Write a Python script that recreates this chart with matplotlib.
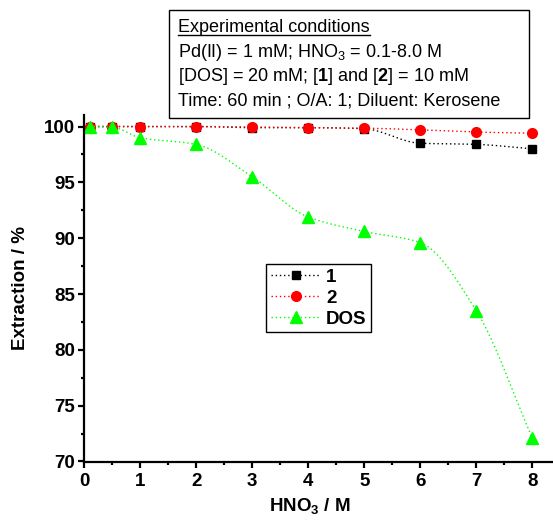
import numpy as np
import matplotlib
matplotlib.use("Agg")
import matplotlib.pyplot as plt
from matplotlib.patches import Rectangle
from matplotlib.lines import Line2D

# HNO3 concentration (M) and extraction (%)
HNO3 = [0.1, 0.5, 1, 2, 3, 4, 5, 6, 7, 8]
EXT_1 = [100.0, 100.0, 100.0, 100.0, 99.9, 99.9, 99.8, 98.5, 98.4, 98.0]
EXT_2 = [100.0, 100.0, 100.0, 100.0, 99.95, 99.9, 99.85, 99.7, 99.5, 99.4]
EXT_DOS = [100.0, 99.95, 99.0, 98.4, 95.5, 91.9, 90.6, 89.6, 83.5, 72.1]

SERIES_LABELS = ["1", "2", "DOS"]
CONDITIONS = [
    "Experimental conditions",
    r"Pd(II) = 1 mM; HNO$_3$ = 0.1-8.0 M",
    r"[DOS] = 20 mM; [$\mathbf{1}$] and [$\mathbf{2}$] = 10 mM",
    "Time: 60 min ; O/A: 1; Diluent: Kerosene",
]

W, H = 553, 525

plt.rcParams.update(
    {
        "font.family": ["Liberation Sans", "DejaVu Sans"],
        "mathtext.fontset": "custom",
        "mathtext.rm": "Liberation Sans",
        "mathtext.it": "Liberation Sans:italic",
        "mathtext.bf": "Liberation Sans:bold",
    }
)


def smooth_line(x, y, n=40):
    # monotone cubic (Fritsch-Carlson) through the points, only for the connector
    x = np.asarray(x, float)
    y = np.asarray(y, float)
    h = np.diff(x)
    d = np.diff(y) / h
    m = np.zeros_like(y)
    m[0], m[-1] = d[0], d[-1]
    for i in range(1, len(x) - 1):
        if d[i - 1] * d[i] <= 0:
            m[i] = 0.0
        else:
            w1 = 2 * h[i] + h[i - 1]
            w2 = h[i] + 2 * h[i - 1]
            m[i] = (w1 + w2) / (w1 / d[i - 1] + w2 / d[i])
    xs, ys = [], []
    for i in range(len(x) - 1):
        t = np.linspace(0, 1, n)
        h00 = 2 * t**3 - 3 * t**2 + 1
        h10 = t**3 - 2 * t**2 + t
        h01 = -2 * t**3 + 3 * t**2
        h11 = t**3 - t**2
        xs.extend(x[i] + t * h[i])
        ys.extend(h00 * y[i] + h10 * h[i] * m[i] + h01 * y[i + 1] + h11 * h[i] * m[i + 1])
    return np.array(xs), np.array(ys)


fig = plt.figure(figsize=(W / 100, H / 100), dpi=100)
ax = fig.add_axes([84 / W, 1 - 461.5 / H, (W - 84) / W, (461.5 - 115) / H])

styles = [
    ("black", "s", 6.0),
    ("red", "o", 7.0),
    ("#00ff00", "^", 8.0),
]
handles = []
for vals, label, (color, marker, ms) in zip([EXT_1, EXT_2, EXT_DOS], SERIES_LABELS, styles):
    sx, sy = smooth_line(HNO3, vals)
    ax.plot(sx, sy, ls=(0, (1, 2)), lw=1.0, color=color)
    ax.plot(HNO3, vals, ls="none", marker=marker, ms=ms, color=color, mec=color)
    handles.append(Line2D([], [], ls=(0, (1, 2)), lw=1.0, color=color,
                          marker=marker, ms=ms, mec=color, label=label))

ax.set_xlim(0, (W - 84) / 56.04)
ax.set_ylim(70, 101.03)
ax.set_xticks(range(0, 9))
ax.set_xticks(np.arange(0.5, 8.5, 1), minor=True)
ax.set_yticks(range(70, 101, 5))
ax.set_yticks(np.arange(72.5, 100, 5), minor=True)
for s in ["top", "right"]:
    ax.spines[s].set_visible(False)
for s in ["left", "bottom"]:
    ax.spines[s].set_linewidth(1.6)
ax.tick_params(which="major", direction="out", length=4.5, width=1.6,
               labelsize=13.5, pad=2)
ax.tick_params(which="minor", direction="out", length=2.3, width=1.6)
ax.tick_params(axis="x", which="major", pad=3.5)
for lab in ax.get_xticklabels() + ax.get_yticklabels():
    lab.set_fontweight("bold")

ax.set_xlabel(r"HNO$_\mathbf{3}$ / M", fontsize=13.5, fontweight="bold")
ax.set_ylabel("Extraction / %", fontsize=13.5, fontweight="bold")
ax.xaxis.set_label_coords((310 - 84) / (W - 84), (461.5 - 496) / 346.5)
ax.yaxis.set_label_coords((29 - 84) / (W - 84), 0.5)

leg = ax.legend(
    handles=handles,
    loc="upper left",
    bbox_to_anchor=(266 / W, 1 - 264 / H),
    bbox_transform=fig.transFigure,
    prop={"weight": "bold", "size": 13.5},
    frameon=True,
    fancybox=False,
    framealpha=1,
    edgecolor="black",
    borderpad=0.25,
    borderaxespad=0,
    labelspacing=0.2,
    handlelength=2.7,
    handletextpad=0.25,
)
leg.get_frame().set_linewidth(1.0)

# conditions box
fig.patches.append(Rectangle((169 / W, 1 - 118 / H), (529 - 169) / W, (118 - 10) / H,
                             transform=fig.transFigure, fill=False, ec="black", lw=1.0))
baselines = [32, 57, 81, 106]
texts = []
for line, yb in zip(CONDITIONS, baselines):
    texts.append(fig.text(178 / W, 1 - yb / H, line, fontsize=13, va="baseline", ha="left"))

fig.canvas.draw()
bb = texts[0].get_window_extent()
uy = 1 - (baselines[0] + 2.5) / H
fig.lines.append(Line2D([bb.x0 / W, bb.x1 / W], [uy, uy], transform=fig.transFigure,
                        color="black", lw=1.0))

fig.savefig("out.png", dpi=100)
